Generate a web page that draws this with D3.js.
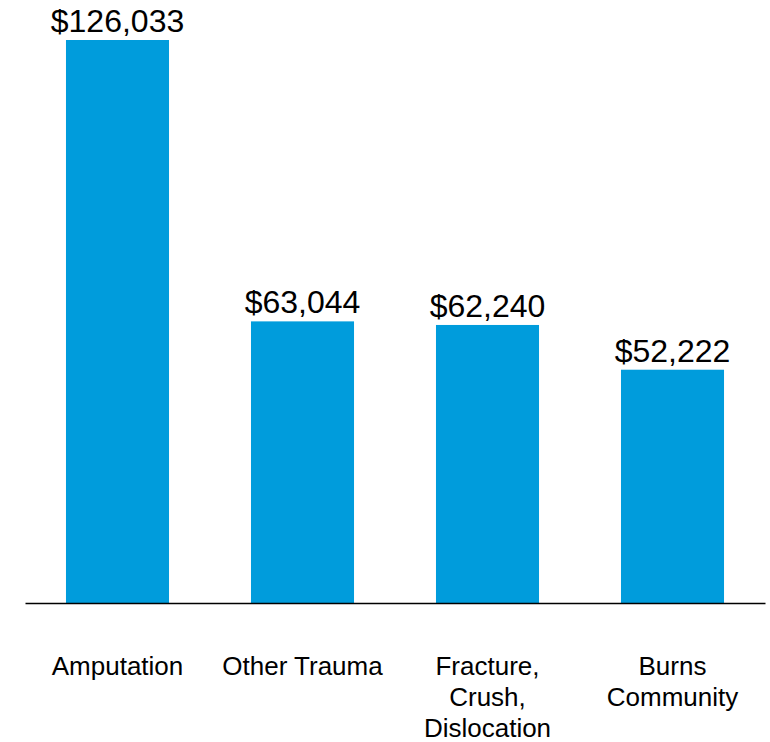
<!DOCTYPE html>
<html>
<head>
<meta charset="utf-8">
<script src="https://cdn.jsdelivr.net/npm/d3@7"></script>
<style>
  html, body { margin: 0; padding: 0; background: #fff; }
  svg { display: block; }
  text { font-family: Arial, "Liberation Sans", sans-serif; fill: #000; }
</style>
</head>
<body>
<svg id="chart" width="770" height="742"></svg>
<script>
const categories = ["Amputation", "Other Trauma", "Fracture, Crush, Dislocation", "Burns Community"];
const categoryLines = [["Amputation"], ["Other Trauma"], ["Fracture,", "Crush,", "Dislocation"], ["Burns", "Community"]];
const values = [126033, 63044, 62240, 52222];

const svg = d3.select("#chart");
const left = 25, right = 765, baseY = 603, topY = 40;

const x = d3.scaleBand()
  .domain(categories)
  .range([left, right])
  .paddingInner(0.443)
  .paddingOuter(0.2215);

const y = d3.scaleLinear()
  .domain([0, d3.max(values)])
  .range([baseY, topY]);

const data = categories.map((c, i) => ({ c, v: values[i], lines: categoryLines[i] }));

svg.selectAll("rect.bar")
  .data(data)
  .join("rect")
  .attr("class", "bar")
  .attr("x", d => x(d.c))
  .attr("y", d => y(d.v))
  .attr("width", x.bandwidth())
  .attr("height", d => baseY - y(d.v))
  .attr("fill", "#009CDC");

// baseline axis
const xAxis = d3.axisBottom(x).tickSize(0).tickFormat("");
const axisG = svg.append("g")
  .attr("transform", `translate(0,${baseY})`)
  .call(xAxis);
axisG.select(".domain").attr("stroke", "#000").attr("stroke-width", 1.6);

// value labels
const fmt = d3.format("$,");
svg.selectAll("text.val")
  .data(data)
  .join("text")
  .attr("class", "val")
  .attr("x", d => x(d.c) + x.bandwidth() / 2)
  .attr("y", d => y(d.v) - 8)
  .attr("text-anchor", "middle")
  .style("font-size", "32px")
  .text(d => fmt(d.v));

// category labels
const cat = svg.selectAll("text.cat")
  .data(data)
  .join("text")
  .attr("class", "cat")
  .attr("x", d => x(d.c) + x.bandwidth() / 2)
  .attr("y", 675)
  .attr("text-anchor", "middle")
  .style("font-size", "26px");

cat.selectAll("tspan")
  .data(d => d.lines.map(l => ({ l, cx: x(d.c) + x.bandwidth() / 2 })))
  .join("tspan")
  .attr("x", d => d.cx)
  .attr("dy", (d, i) => i === 0 ? 0 : 31)
  .text(d => d.l);
</script>
</body>
</html>
